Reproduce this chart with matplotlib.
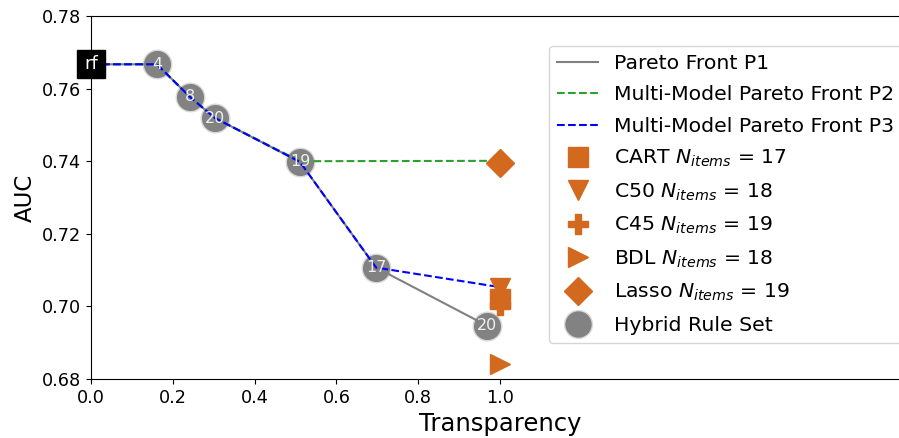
import matplotlib
matplotlib.use("Agg")
import matplotlib.pyplot as plt

# ---- data ----
rf_x, rf_auc = 0.0, 0.7667
hybrid_x = [0.161, 0.242, 0.303, 0.511, 0.697, 0.968]
hybrid_auc = [0.7667, 0.7577, 0.7519, 0.7398, 0.7107, 0.6947]
hybrid_n = ["4", "8", "20", "19", "17", "20"]

p1_x = [0.0, 0.161, 0.242, 0.303, 0.511, 0.697, 0.968]
p1_auc = [0.7667, 0.7667, 0.7577, 0.7519, 0.7398, 0.7107, 0.6947]
p2_x = [0.0, 0.161, 0.242, 0.303, 0.511, 1.0]
p2_auc = [0.7667, 0.7667, 0.7577, 0.7519, 0.7400, 0.7401]
p3_x = [0.0, 0.161, 0.242, 0.303, 0.511, 0.697, 1.0]
p3_auc = [0.7667, 0.7667, 0.7577, 0.7519, 0.7398, 0.7107, 0.7053]

models = ["CART", "C50", "C45", "BDL", "Lasso"]
model_n = [17, 18, 19, 18, 19]
model_x = [1.0, 1.0, 1.0, 1.0, 1.0]
model_auc = [0.7021, 0.7052, 0.7005, 0.6841, 0.7394]
model_markers = ["s", "v", "P", ">", "D"]

xticks = [0.0, 0.2, 0.4, 0.6, 0.8, 1.0]
yticks = [0.68, 0.70, 0.72, 0.74, 0.76, 0.78]

orange = "#d2691e"

fig = plt.figure(figsize=(8.99, 4.38), dpi=100)
ax = fig.add_axes([91 / 899, 59 / 438, 818 / 899, 363 / 438])

# hybrid rule set circles
ax.plot(hybrid_x, hybrid_auc, linestyle="none", marker="o", ms=20.5,
        color="#828282", mec="#d9d9d9", mew=1.0, zorder=2, label="_nolegend_")

# fronts
ax.plot(p1_x, p1_auc, color="gray", lw=1.5, zorder=3, label="Pareto Front P1")
ax.plot(p2_x, p2_auc, color="tab:green", lw=1.5, ls="--", zorder=3,
        label="Multi-Model Pareto Front P2")
ax.plot(p3_x, p3_auc, color="blue", lw=1.5, ls="--", zorder=3,
        label="Multi-Model Pareto Front P3")

# baseline models
for name, n, x, y, m in zip(models, model_n, model_x, model_auc, model_markers):
    ax.plot([x], [y], linestyle="none", marker=m, ms=14.5, color=orange,
            zorder=4, label=name + r" $N_{items}$ = " + str(n))

# legend proxy for hybrid rule set
ax.plot([], [], linestyle="none", marker="o", ms=20, color="#828282",
        mec="#d9d9d9", label="Hybrid Rule Set")

# labels inside circles
for x, y, t in zip(hybrid_x, hybrid_auc, hybrid_n):
    ax.text(x, y, t, color="#f0f0f0", fontsize=11.5, ha="center", va="center",
            zorder=5)

# rf box
ax.plot([rf_x], [rf_auc], marker="s", ms=20, color="black", zorder=4,
        clip_on=False)
ax.text(rf_x, rf_auc, "rf", color="white", fontsize=13, ha="center",
        va="center", zorder=6, clip_on=False)

ax.set_xlim(0, 2)
ax.set_ylim(0.68, 0.78)
ax.set_xticks(xticks)
ax.set_xticklabels([f"{v:.1f}" for v in xticks])
ax.set_yticks(yticks)
ax.set_yticklabels([f"{v:.2f}" for v in yticks])
ax.tick_params(labelsize=12.7)
ax.set_xlabel("Transparency", fontsize=17.5)
ax.set_ylabel("AUC", fontsize=16.5)

ax.legend(loc="upper left", bbox_to_anchor=(549 / 899, 1 - 46 / 438),
          bbox_transform=fig.transFigure, borderaxespad=0, fontsize=14.7,
          labelspacing=0.6)

fig.savefig("out.png", dpi=100)
